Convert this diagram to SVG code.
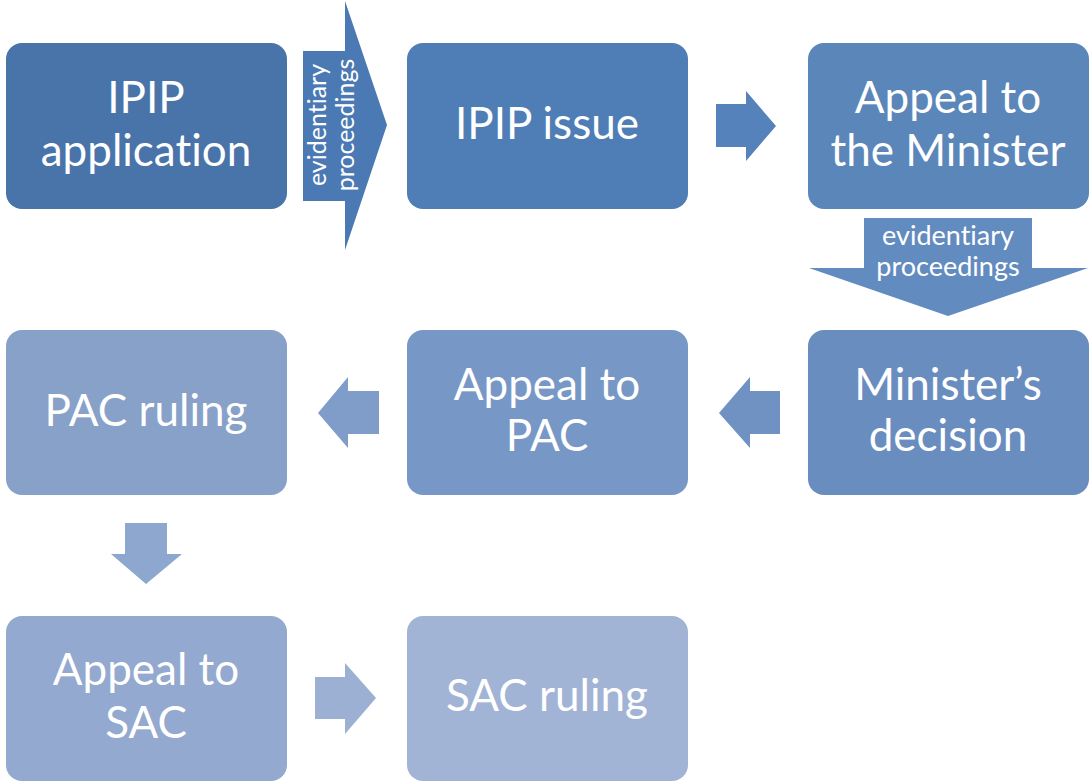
<svg xmlns="http://www.w3.org/2000/svg" width="1090" height="782" viewBox="0 0 1090 782">
<style>
text{font-variant-ligatures:none;font-feature-settings:"liga" 0}
.box text{font-family:Lato,"Open Sans","Liberation Sans",sans-serif;font-size:44px;fill:#fff;text-anchor:middle}
.lbl{font-family:Lato,"Open Sans","Liberation Sans",sans-serif;fill:#fff;text-anchor:middle}
</style>
<rect width="1090" height="782" fill="#fff"/>
<g id="connectors">
  <g id="c1">
    <polygon points="303,51 345,51 345,1 387,125 345,250 345,201 303,201" fill="#4b79b4"/>
    <text class="lbl" font-size="25" transform="translate(326,125) rotate(-90)">evidentiary</text>
    <text class="lbl" font-size="25" transform="translate(354,125) rotate(-90)">proceedings</text>
  </g>
  <polygon id="c2" points="716,104 746,104 746,91 776,126 746,161 746,147 716,147" fill="#5582bb"/>
  <g id="c3">
    <polygon points="864,218 1032,218 1032,268 1088,268 948,316 809,268 864,268" fill="#628bc0"/>
    <text class="lbl" font-size="27" x="948" y="245">evidentiary</text>
    <text class="lbl" font-size="27" x="948" y="276">proceedings</text>
  </g>
  <polygon id="c4" points="780,391 750,391 750,377 719,413 750,448 750,434 780,434" fill="#7092c3"/>
  <polygon id="c5" points="379,391 348,391 348,377 318,413 348,448 348,434 379,434" fill="#7f9dc8"/>
  <polygon id="c6" points="125,523 167,523 167,554 182,554 146,584 111,554 125,554" fill="#8da7ce"/>
  <polygon id="c7" points="315,677 345,677 345,663 376,698 345,734 345,719 315,719" fill="#9bb0d3"/>
</g>
<g id="n1" class="box">
  <rect x="6" y="43" width="281" height="166" rx="16" fill="#4874a9"/>
  <text x="146" y="113">IPIP</text>
  <text x="146" y="166">application</text>
</g>
<g id="n2" class="box">
  <rect x="407" y="43" width="281" height="166" rx="16" fill="#4f7db5"/>
  <text x="547" y="139">IPIP issue</text>
</g>
<g id="n3" class="box">
  <rect x="808" y="43" width="281" height="166" rx="16" fill="#5b86b9"/>
  <text x="948" y="113">Appeal to</text>
  <text x="948" y="166">the Minister</text>
</g>
<g id="n4" class="box">
  <rect x="808" y="330" width="281" height="165" rx="16" fill="#6a8dbf"/>
  <text x="948" y="400">Minister’s</text>
  <text x="948" y="451">decision</text>
</g>
<g id="n5" class="box">
  <rect x="407" y="330" width="281" height="165" rx="16" fill="#7798c6"/>
  <text x="547" y="400">Appeal to</text>
  <text x="547" y="451">PAC</text>
</g>
<g id="n6" class="box">
  <rect x="6" y="330" width="281" height="165" rx="16" fill="#87a1c9"/>
  <text x="146" y="426">PAC ruling</text>
</g>
<g id="n7" class="box">
  <rect x="6" y="616" width="281" height="165" rx="16" fill="#93a9cf"/>
  <text x="146" y="685">Appeal to</text>
  <text x="146" y="738">SAC</text>
</g>
<g id="n8" class="box">
  <rect x="407" y="616" width="281" height="165" rx="16" fill="#a2b4d5"/>
  <text x="547" y="711">SAC ruling</text>
</g>
</svg>
